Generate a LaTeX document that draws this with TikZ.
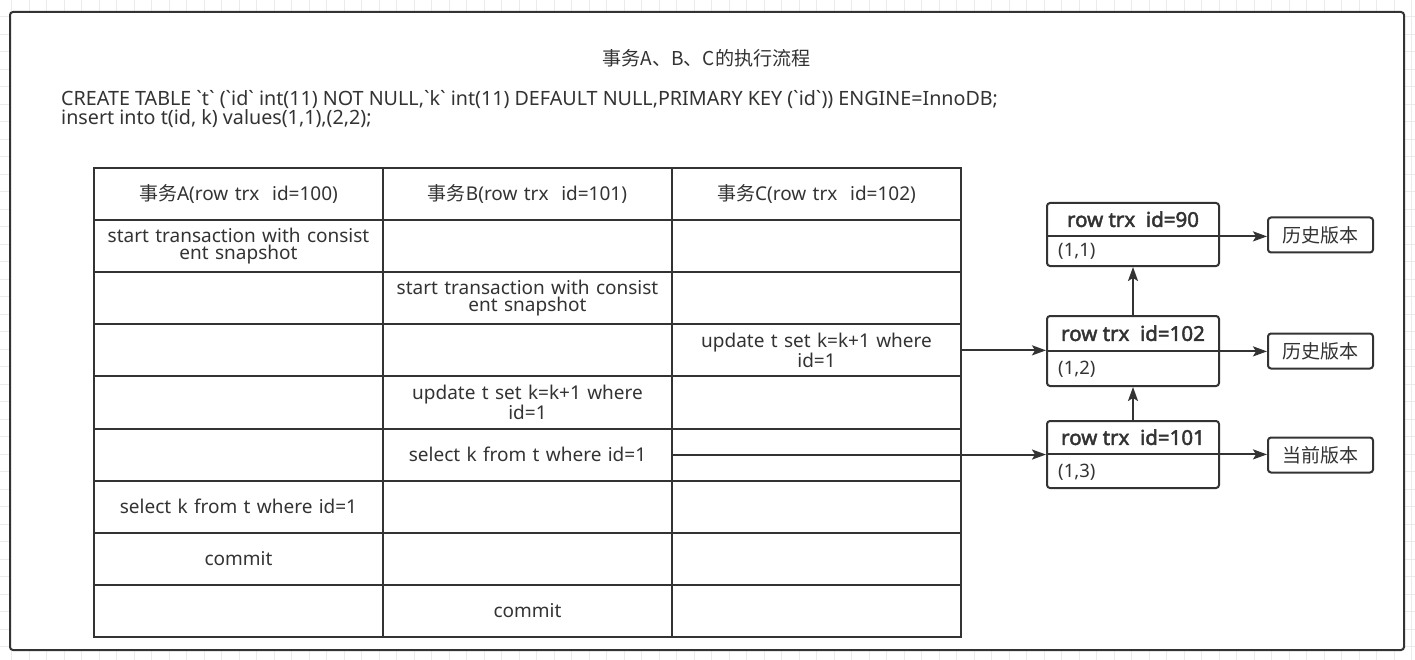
\documentclass[tikz,border=0pt]{standalone}
\usepackage{fontspec}
\setmainfont{Noto Sans}
\newfontfamily\cjk{Noto Sans CJK SC}
\newfontfamily\bfnt{Noto Sans}[FakeBold=2.2]
\usetikzlibrary{arrows.meta}
\newcommand\bq{^^^^02cb}
\definecolor{ln}{HTML}{333333}
\definecolor{gridc}{HTML}{EBEBEB}
\tikzset{
  cell/.style={draw=ln, line width=2pt, minimum width=289pt, minimum height=52.1pt,
    inner sep=0pt, align=center, text width=285pt, font=\fontsize{19}{16.5}\selectfont, text=ln},
  vbox/.style={draw=ln, line width=2pt, rounded corners=3pt, minimum width=172pt, inner sep=0pt},
  vhead/.style={minimum width=172pt, inner sep=0pt, font=\bfnt\fontsize{20.5}{20.5}\selectfont, text=ln},
  vbody/.style={inner sep=0pt, font=\fontsize{18.5}{18.5}\selectfont, text=ln},
  lbl/.style={draw=ln, line width=2pt, rounded corners=3pt, minimum width=105pt, minimum height=35pt,
    inner sep=0pt, font=\cjk\fontsize{19}{19}\selectfont, text=ln},
  arr/.style={draw=ln, line width=2pt, -{Stealth[length=14pt,width=10pt,inset=3pt]}},
}
\begin{document}
\begin{tikzpicture}[x=1pt,y=-1pt]
\useasboundingbox (0,0) rectangle (1415,660);
% background grid
\foreach \i in {0,...,80} \draw[gridc, line width=0.9pt] ({11.8+17.5*\i},0) -- ({11.8+17.5*\i},660);
\foreach \j in {1,...,38} \draw[gridc, line width=0.9pt] (0,{-0.7+17.5*\j}) -- (1415,{-0.7+17.5*\j});
% outer frame
\draw[ln, line width=2pt, fill=white, rounded corners=3pt] (10,12) rectangle (1404,650);
% title and sql
\node[font=\cjk\fontsize{19.1}{19.1}\selectfont, text=ln] (title) at (706.5,58) {事务A、B、C的执行流程};
\node[anchor=west, align=left, inner sep=0pt, font=\fontsize{19.7}{17}\selectfont, text=ln] (sql) at (61,109)
  {CREATE TABLE \bq t\bq\ (\bq id\bq\ int(11) NOT NULL,\bq k\bq\ int(11) DEFAULT NULL,PRIMARY KEY (\bq id\bq)) ENGINE=InnoDB;\\
   insert into t(id, k) values(1,1),(2,2);};
% table
\node[cell] (cA1) at (238.5,194.05) {{\cjk 事务}A(row trx~ id=100)};
\node[cell] (cB1) at (527.5,194.05) {{\cjk 事务}B(row trx~ id=101)};
\node[cell] (cC1) at (816.5,194.05) {{\cjk 事务}C(row trx~ id=102)};
\node[cell] (cA2) at (238.5,246.15) {start transaction with consist\\ent snapshot};
\node[cell] (cB2) at (527.5,246.15) {};
\node[cell] (cC2) at (816.5,246.15) {};
\node[cell] (cA3) at (238.5,298.25) {};
\node[cell] (cB3) at (527.5,298.25) {start transaction with consist\\ent snapshot};
\node[cell] (cC3) at (816.5,298.25) {};
\node[cell] (cA4) at (238.5,350.35) {};
\node[cell] (cB4) at (527.5,350.35) {};
\node[cell] (cC4) at (816.5,350.35) {update t set k=k+1 where\\id=1};
\node[cell] (cA5) at (238.5,402.45) {};
\node[cell] (cB5) at (527.5,402.45) {update t set k=k+1 where\\id=1};
\node[cell] (cC5) at (816.5,402.45) {};
\node[cell] (cA6) at (238.5,454.55) {};
\node[cell] (cB6) at (527.5,454.55) {select k from t where id=1};
\node[cell] (cC6) at (816.5,454.55) {};
\node[cell] (cA7) at (238.5,506.65) {select k from t where id=1};
\node[cell] (cB7) at (527.5,506.65) {};
\node[cell] (cC7) at (816.5,506.65) {};
\node[cell] (cA8) at (238.5,558.75) {commit};
\node[cell] (cB8) at (527.5,558.75) {};
\node[cell] (cC8) at (816.5,558.75) {};
\node[cell] (cA9) at (238.5,610.85) {};
\node[cell] (cB9) at (527.5,610.85) {commit};
\node[cell] (cC9) at (816.5,610.85) {};
% version boxes
\node[vbox, minimum height=63pt] (v90) at (1133,234.5) {};
\node[vhead, minimum height=34pt, anchor=north] (v90h) at (v90.north) {row trx~ id=90};
\draw[ln, line width=2pt] (v90h.south west) -- (v90h.south east);
\node[vbody, anchor=west] (v90b) at (1058,251.5) {(1,1)};
\node[vbox, minimum height=70pt] (v102) at (1133,351) {};
\node[vhead, minimum height=36pt, anchor=north] (v102h) at (v102.north) {row trx~ id=102};
\draw[ln, line width=2pt] (v102h.south west) -- (v102h.south east);
\node[vbody, anchor=west] (v102b) at (1058,369) {(1,2)};
\node[vbox, minimum height=67pt] (v101) at (1133,454.5) {};
\node[vhead, minimum height=34pt, anchor=north] (v101h) at (v101.north) {row trx~ id=101};
\draw[ln, line width=2pt] (v101h.south west) -- (v101h.south east);
\node[vbody, anchor=west] (v101b) at (1058,472) {(1,3)};
% labels
\node[lbl] (l90) at (1320.5,235) {历史版本};
\node[lbl] (l102) at (1320.5,351) {历史版本};
\node[lbl] (l101) at (1320.5,455) {当前版本};
% arrows
\draw[arr] (v90h.south east) -- (v90h.south east -| l90.west);
\draw[arr] (v102h.south east) -- (v102h.south east -| l102.west);
\draw[arr] (v101h.south east) -- (v101h.south east -| l101.west);
\draw[arr] (v102.north) -- (v90.south);
\draw[arr] (v101.north) -- (v102.south);
\draw[arr] (cC4.east) -- (cC4.east -| v102.west);
\draw[arr] (cC6.west) -- (cC6.west -| v101.west);
\end{tikzpicture}
\end{document}
